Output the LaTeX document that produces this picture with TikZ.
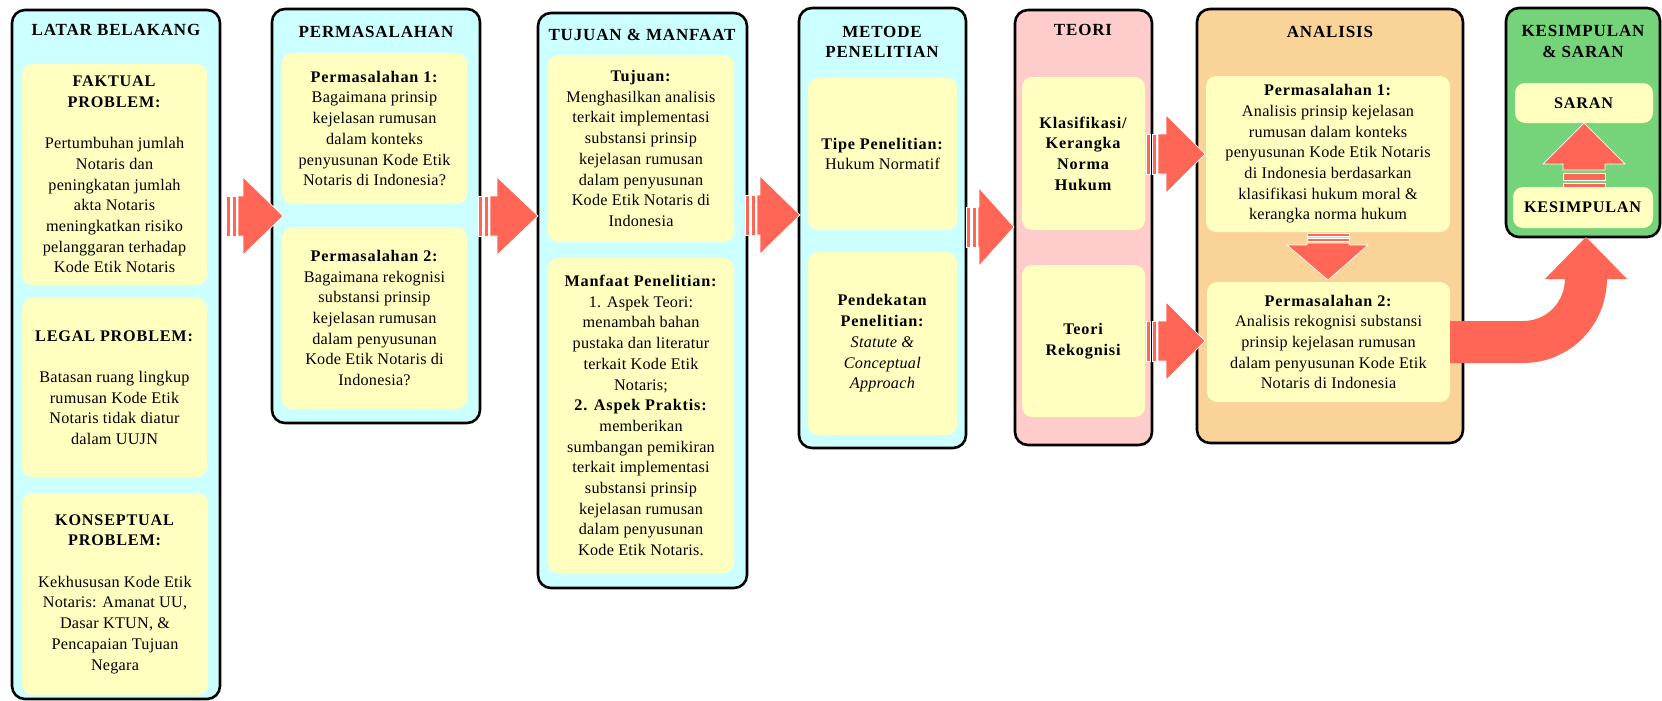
\documentclass[tikz,border=0pt]{standalone}
\usepackage{fontspec}
\setmainfont[LetterSpace=1.5, BoldFeatures={LetterSpace=5}]{Liberation Serif}
\definecolor{cyanbg}{RGB}{204,255,255}
\definecolor{yelbg}{RGB}{255,255,192}
\definecolor{pinkbg}{RGB}{255,204,204}
\definecolor{orangebg}{RGB}{250,211,152}
\definecolor{greenbg}{RGB}{117,211,122}
\definecolor{arrowc}{RGB}{255,102,85}
\newcommand\boxnode[7]{\node[#2, minimum width={(#5)-(#3)}, minimum height={(#6)-(#4)}] (#1) at ({((#3)+(#5))/2},{((#4)+(#6))/2}) {#7};}
\newcommand\stripedarrow[4]{%
  \fill[blockarrow] (#1,#4-20) rectangle (#1+4,#4+20);
  \fill[blockarrow] (#1+6,#4-20) rectangle (#1+10,#4+20);
  \fill[blockarrow] (#1+12,#4-20) -- (#2,#4-20) -- (#2,#4-39) -- (#3,#4) -- (#2,#4+39) -- (#2,#4+20) -- (#1+12,#4+20) -- cycle;}
\begin{document}
\begin{tikzpicture}[x=1pt,y=-1pt,
  colbox/.style={draw=black, line width=2.6pt, rounded corners=13pt, inner sep=0pt, outer sep=0pt},
  inbox/.style={fill=yelbg, rounded corners=10pt, inner sep=0pt, outer sep=0pt, align=center, font=\fontsize{16.2}{20.7}\selectfont},
  ttl/.style={font=\bfseries\fontsize{17}{20.7}\selectfont, align=center, inner sep=0pt},
  blockarrow/.style={fill=arrowc, draw=white, line width=0.7pt}]
\fill[white] (0,0) rectangle (1662,701);
\useasboundingbox (0,0) rectangle (1662,701);

% columns
\boxnode{c1}{colbox, fill=cyanbg}{12}{10}{220}{699}{}
\boxnode{c2}{colbox, fill=cyanbg}{272}{9}{480}{423}{}
\boxnode{c3}{colbox, fill=cyanbg}{538}{13}{747}{588}{}
\boxnode{c4}{colbox, fill=cyanbg}{799}{8}{966}{448}{}
\boxnode{c5}{colbox, fill=pinkbg}{1015}{10}{1152}{445}{}
\boxnode{c6}{colbox, fill=orangebg}{1197}{9}{1463}{443}{}
\boxnode{c7}{colbox, fill=greenbg}{1506}{8}{1660}{237}{}

% titles
\node[ttl] (t1) at (116,30) {LATAR BELAKANG};
\node[ttl] (t2) at (376,32) {PERMASALAHAN};
\node[ttl] (t3) at (642,35) {TUJUAN \& MANFAAT};
\node[ttl] (t4) at (882,42) {METODE\\PENELITIAN};
\node[ttl] (t5) at (1083,30) {TEORI};
\node[ttl] (t6) at (1330,32) {ANALISIS};
\node[ttl] (t7) at (1583,41.5) {KESIMPULAN\\\& SARAN};

% internal arrows
\fill[blockarrow] (1563,183) rectangle (1605,187);
\fill[blockarrow] (1563,173) rectangle (1605,180);
\fill[blockarrow] (1563,170) -- (1563,164) -- (1543,164) -- (1584,123) -- (1625,164) -- (1605,164) -- (1605,170) -- cycle;
\fill[blockarrow] (1307,233) rectangle (1349,236);
\fill[blockarrow] (1307,238) rectangle (1349,241);
\fill[blockarrow] (1307,243) -- (1349,243) -- (1349,245) -- (1368,245) -- (1328,280) -- (1287,245) -- (1307,245) -- cycle;

% column 1
\boxnode{b11}{inbox}{22}{64}{207}{285}{\textbf{FAKTUAL}\\\textbf{PROBLEM:}\\[20.7pt]Pertumbuhan jumlah\\Notaris dan\\peningkatan jumlah\\akta Notaris\\meningkatkan risiko\\pelanggaran terhadap\\Kode Etik Notaris}
\boxnode{b12}{inbox}{22}{298}{207}{477}{\textbf{LEGAL PROBLEM:}\\[20.7pt]Batasan ruang lingkup\\rumusan Kode Etik\\Notaris tidak diatur\\dalam UUJN}
\boxnode{b13}{inbox}{22}{493}{208}{695}{\textbf{KONSEPTUAL}\\\textbf{PROBLEM:}\\[20.7pt]Kekhususan Kode Etik\\Notaris: Amanat UU,\\Dasar KTUN, \&\\Pencapaian Tujuan\\Negara}

% column 2
\boxnode{b21}{inbox}{282}{53}{467}{204}{\textbf{Permasalahan 1:}\\Bagaimana prinsip\\kejelasan rumusan\\dalam konteks\\penyusunan Kode Etik\\Notaris di Indonesia?}
\boxnode{b22}{inbox}{282}{227}{467}{409}{\textbf{Permasalahan 2:}\\Bagaimana rekognisi\\substansi prinsip\\kejelasan rumusan\\dalam penyusunan\\Kode Etik Notaris di\\Indonesia?}

% column 3
\boxnode{b31}{inbox}{548}{55}{734}{242}{\textbf{Tujuan:}\\Menghasilkan analisis\\terkait implementasi\\substansi prinsip\\kejelasan rumusan\\dalam penyusunan\\Kode Etik Notaris di\\Indonesia}
\boxnode{b32}{inbox}{548}{258}{734}{573}{\textbf{Manfaat Penelitian:}\\1. Aspek Teori:\\menambah bahan\\pustaka dan literatur\\terkait Kode Etik\\Notaris;\\\textbf{2. Aspek Praktis:}\\memberikan\\sumbangan pemikiran\\terkait implementasi\\substansi prinsip\\kejelasan rumusan\\dalam penyusunan\\Kode Etik Notaris.}

% column 4
\boxnode{b41}{inbox}{808}{78}{957}{230}{\textbf{Tipe Penelitian:}\\Hukum Normatif}
\boxnode{b42}{inbox}{808}{252}{957}{435}{\textbf{Pendekatan}\\\textbf{Penelitian:}\\\textit{Statute \&}\\\textit{Conceptual}\\\textit{Approach}}

% column 5
\boxnode{b51}{inbox}{1022}{77}{1145}{230}{\textbf{Klasifikasi/}\\\textbf{Kerangka}\\\textbf{Norma}\\\textbf{Hukum}}
\boxnode{b52}{inbox}{1022}{265}{1145}{417}{\textbf{Teori}\\\textbf{Rekognisi}}

% column 6
\boxnode{a1}{inbox}{1206}{76}{1450}{232}{\textbf{Permasalahan 1:}\\Analisis prinsip kejelasan\\rumusan dalam konteks\\penyusunan Kode Etik Notaris\\di Indonesia berdasarkan\\klasifikasi hukum moral \&\\kerangka norma hukum}
\boxnode{a2}{inbox}{1207}{282}{1450}{402}{\textbf{Permasalahan 2:}\\Analisis rekognisi substansi\\prinsip kejelasan rumusan\\dalam penyusunan Kode Etik\\Notaris di Indonesia}

% column 7
\boxnode{s1}{inbox}{1515}{83}{1653}{123}{\textbf{SARAN}}
\boxnode{s2}{inbox}{1513}{187}{1653}{228}{\textbf{KESIMPULAN}}

% arrows between columns
\stripedarrow{226}{243}{283}{216}
\stripedarrow{478}{497}{538}{216}
\stripedarrow{745}{760}{800}{215}
\stripedarrow{966}{979}{1014}{227}
\stripedarrow{1146}{1166}{1205}{154}
\stripedarrow{1146}{1166}{1205}{341}

% curved arrow
\draw[arrowc, line width=42pt] (a2.east) -- (1523,342) .. controls (1558,342) and (1586,314) .. (1586,278);
\fill[arrowc] (1545,279) -- (1627,279) -- (c7.south -| 1586,0) -- cycle;
\end{tikzpicture}
\end{document}
